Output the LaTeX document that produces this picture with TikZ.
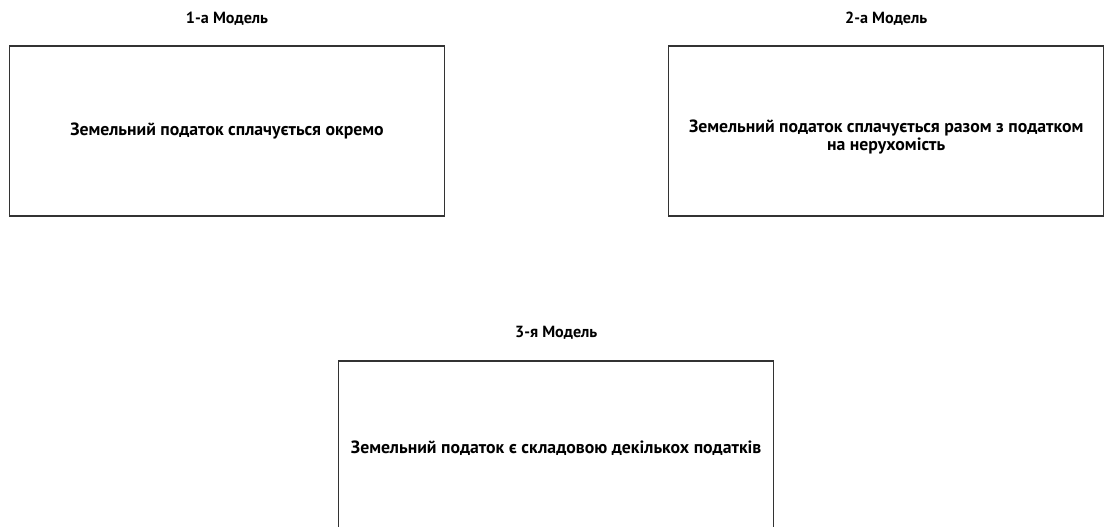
\documentclass[tikz,border=0pt]{standalone}
\usepackage{fontspec}
\setmainfont{PT Sans}
\begin{document}
\begin{tikzpicture}[x=0.75pt,y=-0.75pt,
  modelbox/.style={draw=black!80,line width=0.9pt,minimum width=326.25pt,minimum height=127.5pt,inner sep=0pt,align=center,font=\bfseries\fontsize{13.3}{13}\selectfont},
  boxtext/.style={inner sep=0pt,align=center,font=\bfseries\fontsize{13.3}{13}\selectfont},
  modeltitle/.style={font=\bfseries\fontsize{12.1}{15}\selectfont,inner sep=0pt}]
\useasboundingbox (0,0) rectangle (1104,527);
\node[modelbox] (b1) at (227,131) {Земельний податок сплачується окремо};
\node[modelbox] (b2) at (886.2,131) {};
\node[boxtext] (b2t) at (886.2,137) {Земельний податок сплачується разом з податком\\на нерухомість};
\node[modelbox] (b3) at (556.2,446) {};
\node[boxtext] (b3t) at (556.2,448) {Земельний податок є складовою декількох податків};
\node[modeltitle] (t1) at (227,19) {1-а Модель};
\node[modeltitle] (t2) at (886.2,19) {2-а Модель};
\node[modeltitle] (t3) at (556.2,333) {3-я Модель};
\end{tikzpicture}
\end{document}
